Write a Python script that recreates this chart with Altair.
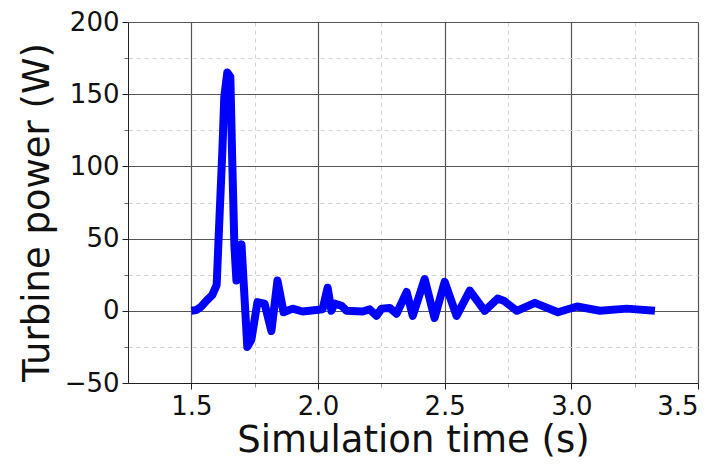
import altair as alt
import pandas as pd

# Values
time_s = [1.50, 1.52, 1.54, 1.56, 1.583, 1.60, 1.61, 1.623, 1.63, 1.642, 1.654,
          1.662, 1.67, 1.678, 1.698, 1.721, 1.737, 1.761, 1.789, 1.816, 1.840,
          1.864, 1.90, 1.939, 1.994, 2.018, 2.038, 2.053, 2.065, 2.093, 2.113,
          2.176, 2.204, 2.231, 2.251, 2.283, 2.310, 2.350, 2.374, 2.421, 2.460,
          2.500, 2.547, 2.599, 2.658, 2.709, 2.733, 2.785, 2.856, 2.947, 3.022,
          3.113, 3.219, 3.330]
power_w = [0, 0.5, 3, 7, 11, 18, 60, 113, 148, 165, 162,
           100, 45, 21, 46, -25, -20, 6, 5, -14, 21,
           -1, 1.5, -0.5, 0.5, 1, 16, 0, 5, 3.5, 0,
           -0.5, 1, -3.5, 1.5, 2, -2, 13, -3.5, 22, -5,
           20, -3.5, 14, 0, 8.5, 7, 0, 5.5, -1, 3,
           0, 1.5, 0]

x_major = [1.5, 2.0, 2.5, 3.0, 3.5]
x_minor = [1.75, 2.25, 2.75, 3.25]
y_major = [-50, 0, 50, 100, 150, 200]
y_minor = [-25, 25, 75, 125, 175]

df = pd.DataFrame({"t": time_s, "p": power_w})

xs = alt.Scale(domain=[1.25, 3.5], nice=False, zero=False)
ys = alt.Scale(domain=[-50, 200], nice=False, zero=False)

FONT = "DejaVu Sans"

minor = alt.Chart(df).mark_line(opacity=0).encode(
    x=alt.X("t:Q", scale=xs, axis=alt.Axis(
        values=x_minor, labels=False, title=None, domain=False, orient="bottom",
        grid=True, gridDash=[4, 4], gridColor="#d0d0d0", gridWidth=1,
        ticks=True, tickSize=4, tickColor="#999999")),
    y=alt.Y("p:Q", scale=ys, axis=alt.Axis(
        values=y_minor, labels=False, title=None, domain=False, orient="left",
        grid=True, gridDash=[4, 4], gridColor="#d0d0d0", gridWidth=1,
        ticks=True, tickSize=4, tickColor="#666666")),
)

main = alt.Chart(df).mark_line(color="#0000ff", strokeWidth=8, strokeJoin="round").encode(
    x=alt.X("t:Q", scale=xs, axis=alt.Axis(
        values=x_major, format=".1f", title="Simulation time (s)", orient="bottom",
        grid=True, gridColor="#555555", gridWidth=1.2,
        domainColor="#222222", tickColor="#222222", tickSize=6,
        labelFontSize=26, labelFont=FONT, labelColor="#111111", labelPadding=4,
        titleFontSize=37, titleFont=FONT, titleFontWeight="normal",
        titleColor="#111111", titlePadding=3)),
    y=alt.Y("p:Q", scale=ys, axis=alt.Axis(
        values=y_major, format="d", title="Turbine power (W)", orient="left",
        grid=True, gridColor="#555555", gridWidth=1.2,
        domainColor="#222222", tickColor="#222222", tickSize=6,
        labelFontSize=26, labelFont=FONT, labelColor="#111111", labelPadding=3,
        titleFontSize=37, titleFont=FONT, titleFontWeight="normal",
        titleColor="#111111", titlePadding=8, titleY=190)),
)

chart = alt.layer(minor, main).resolve_axis(
    x="independent", y="independent"
).properties(
    width=570, height=361,
    autosize=alt.AutoSizeParams(type="none"),
    padding={"left": 120, "top": 14, "right": 15, "bottom": 77},
).configure_view(stroke="#222222", strokeWidth=1.2).configure(background="white")

chart.save("out.html", embed_options={"renderer": "svg", "actions": False})
